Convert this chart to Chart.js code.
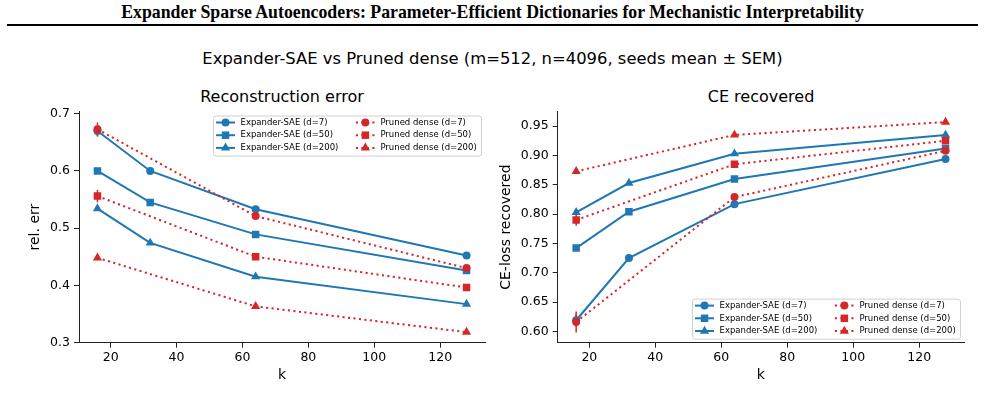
<!DOCTYPE html>
<html>
<head>
<meta charset="utf-8">
<script src="https://cdn.jsdelivr.net/npm/chart.js@4.4.1/dist/chart.umd.min.js"></script>
<style>
  body { margin: 0; width: 985px; height: 414px; background: #fff; position: relative; overflow: hidden; font-family: "DejaVu Sans", sans-serif; color: #000; }
  .txt { position: absolute; white-space: nowrap; text-align: center; }
  #title { top: 2px; left: 0; width: 985px; line-height: 26px; font: bold 17.8px "Liberation Serif", serif; }
  #rule { position: absolute; left: 7px; top: 24px; width: 971px; height: 2px; background: #000; }
  #sub { top: 46px; left: 0; width: 985px; line-height: 26px; font-size: 16.4px; }
  .ptitle { top: 87px; line-height: 20px; font-size: 16px; width: 300px; }
  canvas { position: absolute; }
</style>
</head>
<body>
<div id="title" class="txt">Expander Sparse Autoencoders: Parameter-Efficient Dictionaries for Mechanistic Interpretability</div>
<div id="rule"></div>
<div id="sub" class="txt">Expander-SAE vs Pruned dense (m=512, n=4096, seeds mean ± SEM)</div>
<div class="txt ptitle" style="left:132px">Reconstruction error</div>
<div class="txt ptitle" style="left:611px">CE recovered</div>
<canvas id="rec" width="500" height="300" style="left:0;top:100px"></canvas>
<canvas id="ce" width="495" height="300" style="left:490px;top:100px"></canvas>
<script>
// k values (pruned dense has no k=32 run)
const kExp = [16, 32, 64, 128];
const kPruned = [16, 64, 128];
const xTicks = [20, 40, 60, 80, 100, 120];

// reconstruction error (rel. err)
const recExp7 = [0.670, 0.600, 0.533, 0.452];
const recExp50 = [0.600, 0.545, 0.489, 0.426];
const recExp200 = [0.534, 0.474, 0.415, 0.367];
const recPr7 = [0.673, 0.521, 0.430];
const recPr50 = [0.556, 0.450, 0.396];
const recPr200 = [0.448, 0.363, 0.318];
const recExp7Err = [0.010, 0.002, 0.002, 0.002];
const recPr7Err = [0.012, 0.003, 0.002];
const recPr50Err = [0.011, 0.002, 0.002];
const recTicks = [0.3, 0.4, 0.5, 0.6, 0.7];

// CE-loss recovered
const ceExp7 = [0.619, 0.725, 0.817, 0.894];
const ceExp50 = [0.742, 0.804, 0.860, 0.912];
const ceExp200 = [0.803, 0.853, 0.903, 0.935];
const cePr7 = [0.616, 0.829, 0.908];
const cePr50 = [0.790, 0.885, 0.925];
const cePr200 = [0.873, 0.935, 0.957];
const ceExp7Err = [0.011, 0.002, 0.002, 0.002];
const cePr7Err = [0.018, 0.003, 0.002];
const cePr50Err = [0.010, 0.003, 0.002];
const ceTicks = [0.60, 0.65, 0.70, 0.75, 0.80, 0.85, 0.90, 0.95];

const FONT = '"DejaVu Sans"';
const BLUE = '#1f77b4';
const RED = '#d62728';
Chart.defaults.font.family = FONT;
Chart.defaults.color = '#000';

const pts = (ks, ys) => ks.map((k, i) => ({x: k, y: ys[i]}));
const radius = {circle: 4, rect: 5.3, triangle: 5.3};

function series(label, ks, ys, err, style, pruned, order) {
    return {
        label: label,
        data: pts(ks, ys),
        err: err,
        borderColor: pruned ? RED : BLUE,
        backgroundColor: pruned ? RED : BLUE,
        borderWidth: 2,
        borderDash: pruned ? [2.1, 3.4] : [],
        borderCapStyle: 'butt',
        pointStyle: style,
        pointRadius: radius[style],
        pointBorderWidth: 0,
        tension: 0,
        order: order
    };
}

// vertical SEM bars, drawn just before each dataset
const errorBars = {
    id: 'errorBars',
    beforeDatasetDraw(chart, args) {
        const ds = chart.data.datasets[args.index];
        if (!ds.err) return;
        const {ctx, scales: {x, y}} = chart;
        ctx.save();
        ctx.strokeStyle = ds.borderColor;
        ctx.lineWidth = 1.5;
        ds.data.forEach((p, i) => {
            const e = ds.err[i];
            if (!e) return;
            const px = x.getPixelForValue(p.x);
            ctx.beginPath();
            ctx.moveTo(px, y.getPixelForValue(p.y - e));
            ctx.lineTo(px, y.getPixelForValue(p.y + e));
            ctx.stroke();
        });
        ctx.restore();
    }
};

// matplotlib-like legend: 2 columns, line + marker handles, boxed
const boxLegend = {
    id: 'boxLegend',
    afterDraw(chart, args, opts) {
        const {ctx, chartArea: a} = chart;
        const sets = chart.data.datasets;
        const rowH = 12.7, handle = 19, gap = 5.5, colGap = 17.5, padL = 3, padR = 4.3;
        ctx.save();
        ctx.font = '8.5px ' + FONT;
        const cols = [sets.slice(0, 3), sets.slice(3)];
        const colW = cols.map(c => handle + gap + Math.max(...c.map(d => ctx.measureText(d.label).width)));
        const w = padL + colW[0] + colGap + colW[1] + padR;
        const h = 14.7 + rowH * 2;
        const bx = a.right - 4 - w;
        const by = opts.loc === 'upper' ? a.top + 4 : a.bottom - 4 - h;
        ctx.beginPath();
        ctx.roundRect(bx + 0.5, by + 0.5, w, h, 2.5);
        ctx.fillStyle = 'rgba(255,255,255,0.8)';
        ctx.fill();
        ctx.strokeStyle = '#d0d0d0';
        ctx.lineWidth = 1;
        ctx.stroke();
        cols.forEach((c, ci) => {
            const x0 = bx + padL + (ci ? colW[0] + colGap : 0);
            c.forEach((ds, r) => {
                const yc = by + 7 + r * rowH;
                ctx.save();
                ctx.setLineDash(ds.borderDash);
                ctx.lineCap = 'butt';
                ctx.strokeStyle = ds.borderColor;
                ctx.lineWidth = ds.borderWidth;
                ctx.beginPath();
                ctx.moveTo(x0, yc);
                ctx.lineTo(x0 + handle, yc);
                ctx.stroke();
                ctx.restore();
                ctx.fillStyle = ds.backgroundColor;
                Chart.helpers.drawPoint(ctx, {pointStyle: ds.pointStyle, radius: ds.pointRadius, borderWidth: 0, rotation: 0}, x0 + handle / 2, yc);
                ctx.fillStyle = '#000';
                ctx.textBaseline = 'middle';
                ctx.textAlign = 'left';
                ctx.fillText(ds.label, x0 + handle + gap, yc);
            });
        });
        ctx.restore();
    }
};

function axisCommon() {
    return {
        grid: {display: true, drawOnChartArea: false, drawTicks: true, tickLength: 5, color: '#222', lineWidth: 1},
        border: {display: true, color: '#222', width: 1}
    };
}

function makeChart(id, sets, yMin, yMax, yTicks, digits, yLabel, yWidth, yTitlePad, padRight, legendLoc) {
    return new Chart(document.getElementById(id), {
        type: 'line',
        data: {datasets: sets},
        plugins: [errorBars, boxLegend],
        options: {
            responsive: false,
            animation: false,
            devicePixelRatio: 1,
            events: [],
            layout: {padding: {left: 0, top: 10, right: padRight, bottom: 12.3}},
            plugins: {
                legend: {display: false},
                tooltip: {enabled: false},
                boxLegend: {loc: legendLoc}
            },
            scales: {
                x: {
                    type: 'linear',
                    min: 10.4,
                    max: 133.6,
                    afterBuildTicks: s => { s.ticks = xTicks.map(v => ({value: v})); },
                    afterFit: s => { s.height = 45; },
                    ticks: {font: {size: 12.5}, color: '#000', padding: 3, maxRotation: 0},
                    title: {display: true, text: 'k', font: {size: 14}, padding: {top: 0, bottom: 4.3}},
                    ...axisCommon()
                },
                y: {
                    type: 'linear',
                    min: yMin,
                    max: yMax,
                    afterBuildTicks: s => { s.ticks = yTicks.map(v => ({value: v})); },
                    afterFit: s => { s.width = yWidth; },
                    ticks: {font: {size: 12.5}, color: '#000', padding: 4, callback: v => v.toFixed(digits)},
                    title: {display: true, text: yLabel, font: {size: 14}, padding: {top: yTitlePad, bottom: 0}},
                    ...axisCommon()
                }
            }
        }
    });
}

const recSets = [
    series('Expander-SAE (d=7)', kExp, recExp7, recExp7Err, 'circle', false, 6),
    series('Expander-SAE (d=50)', kExp, recExp50, null, 'rect', false, 5),
    series('Expander-SAE (d=200)', kExp, recExp200, null, 'triangle', false, 4),
    series('Pruned dense (d=7)', kPruned, recPr7, recPr7Err, 'circle', true, 3),
    series('Pruned dense (d=50)', kPruned, recPr50, recPr50Err, 'rect', true, 2),
    series('Pruned dense (d=200)', kPruned, recPr200, null, 'triangle', true, 1)
];
const ceSets = [
    series('Expander-SAE (d=7)', kExp, ceExp7, ceExp7Err, 'circle', false, 6),
    series('Expander-SAE (d=50)', kExp, ceExp50, null, 'rect', false, 5),
    series('Expander-SAE (d=200)', kExp, ceExp200, null, 'triangle', false, 4),
    series('Pruned dense (d=7)', kPruned, cePr7, cePr7Err, 'circle', true, 3),
    series('Pruned dense (d=50)', kPruned, cePr50, cePr50Err, 'rect', true, 2),
    series('Pruned dense (d=200)', kPruned, cePr200, null, 'triangle', true, 1)
];

makeChart('rec', recSets, 0.2995, 0.704, recTicks, 1, 'rel. err', 79, 27, 15, 'upper');
makeChart('ce', ceSets, 0.5807, 0.975, ceTicks, 2, 'CE-loss recovered', 67.7, 8.3, 21, 'lower');
</script>
</body>
</html>
